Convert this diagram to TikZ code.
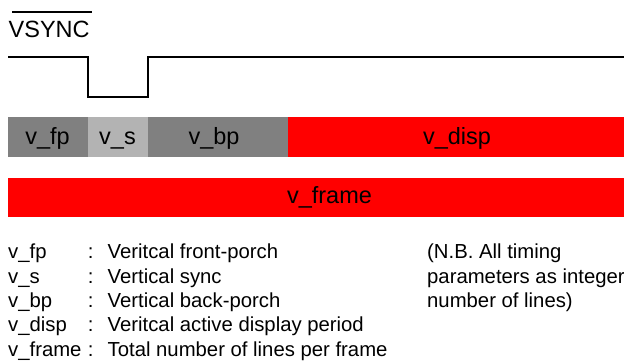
\documentclass[tikz,border=0pt]{standalone}
\usepackage{fontspec}
\setmainfont{Liberation Sans}
\definecolor{segdark}{RGB}{128,128,128}
\definecolor{seglight}{RGB}{179,179,179}
\definecolor{segred}{RGB}{255,0,0}
\begin{document}
\begin{tikzpicture}[x=1pt,y=-1pt,
  big/.style={inner sep=0pt, anchor=base, font=\fontsize{23.5}{28}\selectfont},
  small/.style={inner sep=0pt, anchor=base west, font=\fontsize{20.3}{24}\selectfont},
  wave/.style={line width=1.5pt, line join=miter}]
\useasboundingbox (0,0) rectangle (624,363);
% VSYNC label
\node[big, anchor=base west] (vsync) at (8.5,38) {VSYNC};
\coordinate (olA) at (12,12);
\coordinate (olB) at (92,12);
\draw[line width=1.2pt] (olA) -- (olB);
% waveform
\coordinate (w0) at (8,57);
\coordinate (w1) at (88,57);
\coordinate (w2) at (88,97);
\coordinate (w3) at (148,97);
\coordinate (w4) at (148,57);
\coordinate (w5) at (624,57);
\draw[wave] (w0) -- (w1) -- (w2) -- (w3) -- (w4) -- (w5);
% segment bar
\fill[segdark]  (8,117) rectangle (88,157);
\fill[seglight] (88,117) rectangle (148,157);
\fill[segdark]  (148,117) rectangle (288,157);
\fill[segred]   (288,117) rectangle (624,157);
\node[big] (lfp) at (47.5,145) {v\_fp};
\node[big] (ls) at (117.5,145) {v\_s};
\node[big] (lbp) at (214,145) {v\_bp};
\node[big] (ldisp) at (457,145) {v\_disp};
% frame bar
\fill[segred] (8,178) rectangle (624,217);
\node[big] (lframe) at (329.5,204) {v\_frame};
% legend
\node[small] (k1) at (8,259) {v\_fp};
\node[small] (k2) at (8,283.3) {v\_s};
\node[small] (k3) at (8,307.6) {v\_bp};
\node[small] (k4) at (8,331.9) {v\_disp};
\node[small] (k5) at (8,356.2) {v\_frame};
\node[small] (c1) at (87.7,259) {:};
\node[small] (c2) at (87.7,283.3) {:};
\node[small] (c3) at (87.7,307.6) {:};
\node[small] (c4) at (87.7,331.9) {:};
\node[small] (c5) at (87.7,356.2) {:};
\node[small] (d1) at (107.5,259) {Veritcal front-porch};
\node[small] (d2) at (107.5,283.3) {Vertical sync};
\node[small] (d3) at (107.5,307.6) {Vertical back-porch};
\node[small] (d4) at (107.5,331.9) {Veritcal active display period};
\node[small] (d5) at (107.5,356.2) {Total number of lines per frame};
\node[small] (n1) at (427,259) {(N.B. All timing};
\node[small] (n2) at (427,283.3) {parameters as integer};
\node[small] (n3) at (427,307.6) {number of lines)};
\end{tikzpicture}
\end{document}
